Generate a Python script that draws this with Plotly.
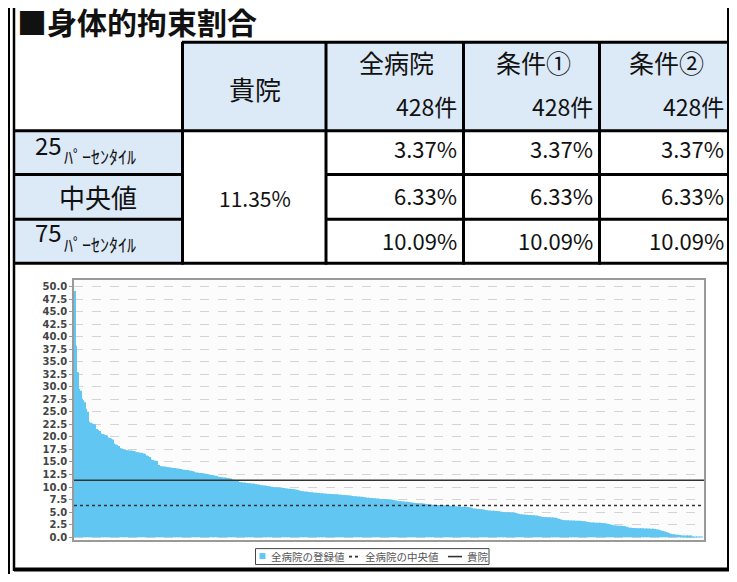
import plotly.graph_objects as go

W, H = 737, 582
OFF = 8  # page body margin offset of the plot div
FW, FH = W - OFF, H - 2 * OFF  # keep the page free of scrollbars
RIGHT = 728.5  # right frame, kept inside the visible page area

# ---------------- data ----------------
title_text = "■身体的拘束割合"
col_headers = ["貴院", "全病院", "条件①", "条件②"]
group_counts = [428, 428, 428]
row_labels = ["25", "中央値", "75"]
row_label_suffix = "ﾊﾟｰｾﾝﾀｲﾙ"
own_rate = 11.35
all_rates = [3.37, 6.33, 10.09]
cond1_rates = [3.37, 6.33, 10.09]
cond2_rates = [3.37, 6.33, 10.09]
all_median = all_rates[1]

legend_names = ["全病院の登録値", "全病院の中央値", "貴院"]
yticks = [0.0, 2.5, 5.0, 7.5, 10.0, 12.5, 15.0, 17.5, 20.0, 22.5, 25.0,
          27.5, 30.0, 32.5, 35.0, 37.5, 40.0, 42.5, 45.0, 47.5, 50.0]

hospital_values = [
    49.1, 38.2, 32.9, 29.6, 29.2, 27.6, 27.3, 26.9, 25.6, 25.0,
    23.0, 22.8, 22.7, 22.6, 22.5, 21.6, 21.4, 21.2,
    20.7, 20.6, 20.5, 20.4, 20.3, 19.9, 19.8, 19.7, 19.5,
    18.7, 18.5, 18.4, 18.2, 17.8, 17.7, 17.6, 17.5,
    17.4, 17.35, 17.3, 17.3, 17.25, 17.2, 17.1,
    17.0, 16.95, 16.9, 16.85, 16.8, 16.7, 16.6,
    16.3, 16.2, 16.0, 15.5, 15.4, 15.3, 15.25, 15.2, 14.4, 14.2,
    14.15, 14.1, 14.1, 14.05, 14.0, 13.95, 13.9,
    13.85, 13.8, 13.8, 13.75, 13.7, 13.65, 13.6,
    13.5, 13.45, 13.4, 13.4, 13.35, 13.3, 13.25, 13.2, 13.1,
    12.95, 12.9, 12.85, 12.8, 12.8, 12.75, 12.7, 12.65, 12.6,
    12.5, 12.45, 12.4, 12.35, 12.3, 12.25, 12.2,
    12.05, 12.0, 11.95, 11.9, 11.9, 11.85, 11.8, 11.75, 11.7,
    11.5, 11.45, 11.4, 11.35, 11.3,
    11.0, 10.95, 10.9, 10.9, 10.85,
    10.8, 10.75, 10.75, 10.7, 10.7, 10.65, 10.6, 10.55, 10.5,
    10.4, 10.35, 10.3, 10.3, 10.25, 10.2, 10.15, 10.1, 10.05,
    10.0, 9.98, 9.95, 9.92, 9.9, 9.88, 9.85, 9.82, 9.78,
    9.72, 9.68, 9.65, 9.62, 9.6, 9.56, 9.52, 9.48, 9.42,
    9.25, 9.2, 9.16, 9.12, 9.1, 9.06, 9.02, 8.98, 8.94,
    8.9, 8.88, 8.85, 8.82, 8.8, 8.78, 8.75, 8.72, 8.7,
    8.67, 8.65, 8.63, 8.61, 8.6, 8.58, 8.56, 8.54, 8.5,
    8.47, 8.45, 8.43, 8.41, 8.4, 8.38, 8.35, 8.32, 8.28,
    8.22, 8.18, 8.15, 8.12, 8.1, 8.07, 8.04, 8.0, 7.96,
    7.9, 7.87, 7.84, 7.82, 7.8, 7.78, 7.75, 7.72, 7.7,
    7.66, 7.64, 7.62, 7.61, 7.6, 7.58, 7.56, 7.54, 7.5, 7.45, 7.4,
    7.3, 7.26, 7.22, 7.19, 7.16, 7.14, 7.12, 7.09, 7.06, 7.02, 6.98, 6.92,
    6.86, 6.83, 6.8, 6.78, 6.76, 6.75, 6.73, 6.7, 6.67, 6.63, 6.58,
    6.52, 6.5, 6.48, 6.46, 6.44, 6.42, 6.41, 6.4, 6.39, 6.38, 6.36, 6.35, 6.33, 6.31, 6.28, 6.24,
    6.2, 6.18, 6.16, 6.14, 6.12, 6.1, 6.08, 6.07, 6.05, 6.03, 6.0, 5.96, 5.9, 5.84,
    5.72, 5.68, 5.65, 5.62, 5.6, 5.58, 5.55, 5.5, 5.44,
    5.36, 5.33, 5.3, 5.28, 5.26, 5.25, 5.23, 5.2, 5.18, 5.14, 5.08,
    5.02, 5.0, 4.98, 4.97, 4.96, 4.94, 4.92, 4.9, 4.86, 4.8, 4.72,
    4.6, 4.56, 4.52, 4.5, 4.48, 4.46, 4.44, 4.43, 4.41, 4.39, 4.37, 4.34, 4.3, 4.24, 4.16,
    4.08, 4.04, 4.02, 4.0, 3.98, 3.97, 3.96, 3.94, 3.92, 3.9, 3.86, 3.8, 3.7, 3.58,
    3.46, 3.42, 3.4, 3.38, 3.36, 3.35, 3.34, 3.32, 3.31, 3.3,
    3.28, 3.27, 3.26, 3.24, 3.22, 3.2, 3.16, 3.1, 3.04,
    2.98, 2.95, 2.93, 2.92, 2.9, 2.89, 2.88, 2.86, 2.84, 2.82,
    2.79, 2.75, 2.7, 2.62, 2.54, 2.46,
    2.38, 2.34, 2.32, 2.3, 2.28, 2.27, 2.25, 2.22, 2.18, 2.1, 2.0,
    1.9, 1.86, 1.84, 1.82, 1.81, 1.8, 1.79, 1.78, 1.77, 1.76,
    1.75, 1.74, 1.73, 1.72, 1.7, 1.68, 1.66, 1.63, 1.6, 1.55, 1.48, 1.4,
    1.3, 1.22, 1.15, 1.05, 0.92, 0.78,
    0.66, 0.6, 0.56, 0.53, 0.5, 0.47, 0.44, 0.38, 0.3,
    0.24, 0.22, 0.2, 0.19, 0.17, 0.15, 0.12,
    0.08, 0.06, 0.05, 0.04, 0.02, 0.01, 0.0,
]
hospital_rank = list(range(1, len(hospital_values) + 1))

# ---------------- helpers (page px -> paper) ----------------
def X(p):
    return (p - OFF) / FW


def Y(p):
    return 1 - (p - OFF) / FH


JP = "Noto Sans CJK JP"
header_fill = "#dce9f6"
bar_color = "#62c6f2"
line_color = "#333333"

fig = go.Figure()

fig.add_trace(go.Bar(
    x=hospital_rank, y=hospital_values, name=legend_names[0],
    marker=dict(color=bar_color, line=dict(width=0)), showlegend=False,
))
x_span = [0.5, len(hospital_values) + 0.5]
fig.add_trace(go.Scatter(
    x=x_span, y=[all_median, all_median], mode="lines", name=legend_names[1],
    line=dict(color=line_color, width=1.6, dash="dot"), showlegend=False,
))
fig.add_trace(go.Scatter(
    x=x_span, y=[own_rate, own_rate], mode="lines", name=legend_names[2],
    line=dict(color=line_color, width=1.6), showlegend=False,
))

# ---------------- table shapes ----------------
shapes = []


def rect(x0, y0, x1, y1, fill, lw=0, lc="black", layer="below"):
    shapes.append(dict(type="rect", xref="paper", yref="paper",
                       x0=X(x0), x1=X(x1), y0=Y(y1), y1=Y(y0),
                       fillcolor=fill, line=dict(width=lw, color=lc),
                       layer=layer))


def line(x0, y0, x1, y1, w=3, color="black", dash="solid"):
    shapes.append(dict(type="line", xref="paper", yref="paper",
                       x0=X(x0), x1=X(x1), y0=Y(y0), y1=Y(y1),
                       line=dict(color=color, width=w, dash=dash)))


rect(182, 42, RIGHT, 131, header_fill)
rect(14, 131, 182, 265, header_fill)

col_x = [14, 182.5, 326, 463.5, 599.5, RIGHT]
row_y = [42.5, 131.5, 175.5, 220.5, 264.5]

line(182, row_y[0], RIGHT, row_y[0])
line(14, row_y[1], RIGHT, row_y[1])
for ry in row_y[2:4]:
    line(14, ry, 182, ry)
    line(326, ry, RIGHT, ry)
line(14, row_y[4], RIGHT, row_y[4])
for cx in col_x[1:5]:
    line(cx, 42, cx, 266)

# outer frame
line(8.5, 0, 8.5, 582, w=3)
line(14, 0, 14, 574, w=2.5)
line(RIGHT, 0, RIGHT, 574, w=3)
line(14, 572.5, RIGHT + 1.5, 572.5, w=4)

# ---------------- annotations ----------------
ann = []


def text(t, x, y, size, anchor="center", weight="normal", family=JP,
         color="#111111"):
    ann.append(dict(text=t, x=X(x), y=Y(y), xref="paper", yref="paper",
                    xanchor=anchor, yanchor="middle", showarrow=False,
                    borderpad=0,
                    font=dict(family=family, size=size, color=color,
                              weight=weight)))


text(title_text, 16, 21, 30, anchor="left", weight="bold")
text(col_headers[0], 255, 89, 26)
col_centers = [396, 533, 666]
col_rights = [458, 594, 725]
for i in range(3):
    text(col_headers[i + 1], col_centers[i], 62, 25)
    text(f"{group_counts[i]}件", col_rights[i], 107, 23, anchor="right")

label_centers = [145, 198, 233]
for i, lab in enumerate(row_labels):
    if lab.isdigit():
        text(lab, 63, label_centers[i], 24, anchor="right")
        text(row_label_suffix, 63, label_centers[i] + 12, 18, anchor="left")
    else:
        text(lab, 98, label_centers[i], 26)

text(f"{own_rate:.2f}%", 255, 199, 21)
value_rows = [149, 196, 241]
for ci, series in enumerate([all_rates, cond1_rates, cond2_rates]):
    for ri, v in enumerate(series):
        text(f"{v:.2f}%", col_rights[ci], value_rows[ri], 22, anchor="right")

# ---------------- legend (drawn) ----------------
rect(255.5, 551.5, 489, 567.5, "white", lw=1, lc="#444444", layer="above")
rect(259.5, 556, 265.5, 562, bar_color, layer="above")
text(legend_names[0], 270, 559.5, 10.5, anchor="left", color="#555555")
line(349, 559.5, 359, 559.5, w=1.6, color=line_color, dash="dot")
text(legend_names[1], 364, 559.5, 10.5, anchor="left", color="#555555")
line(448, 559.5, 462, 559.5, w=1.6, color=line_color)
text(legend_names[2], 466, 559.5, 10.5, anchor="left", color="#555555")

# ---------------- layout ----------------
px_per_unit = 5.04
y_bottom = -(543 - 540) / px_per_unit
y_top = (540 - 281) / px_per_unit

fig.update_layout(
    width=FW, height=FH,
    margin=dict(l=0, r=0, t=0, b=0),
    paper_bgcolor="white",
    plot_bgcolor="#fcfcfc",
    bargap=0.18,
    showlegend=False,
    shapes=shapes,
    annotations=ann,
    xaxis=dict(domain=[X(74), X(704)], range=x_span, showticklabels=False,
               ticks="", showgrid=False, zeroline=False,
               showline=True, linecolor="#9a9a9a", linewidth=1.5, mirror=True),
    yaxis=dict(domain=[Y(543), Y(281)], range=[y_bottom, y_top],
               tickvals=yticks, tickformat=".1f", ticks="outside",
               ticklen=3, tickcolor="#999999",
               tickfont=dict(family="DejaVu Sans", size=10, color="#444444",
                             weight="bold"),
               showgrid=True, gridcolor="#d4d4d4", griddash="dash",
               gridwidth=1, zeroline=False,
               showline=True, linecolor="#9a9a9a", linewidth=1.5, mirror=True),
)

fig.write_html("out.html")
